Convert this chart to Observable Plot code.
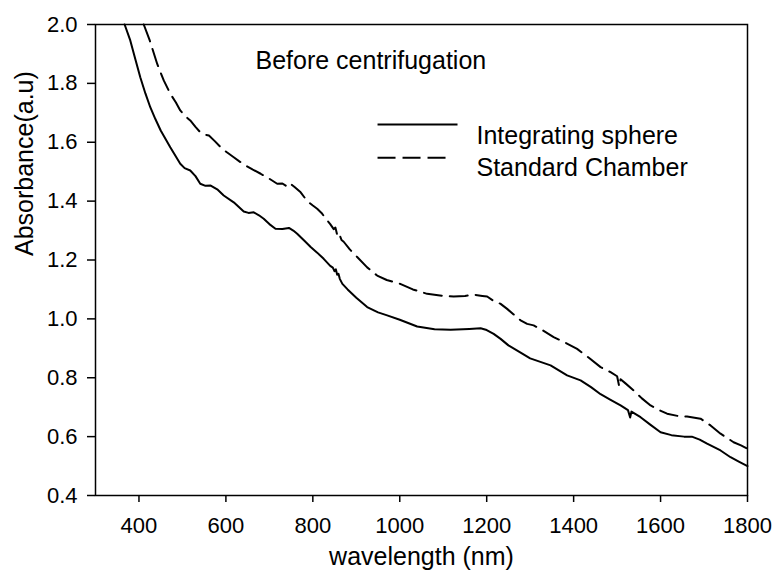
<!DOCTYPE html>
<html>
<head>
<meta charset="utf-8">
<script src="https://cdn.jsdelivr.net/npm/d3@7"></script>
<script src="https://cdn.jsdelivr.net/npm/@observablehq/plot@0.6"></script>
<style>
  html, body { margin: 0; padding: 0; background: white; }
</style>
</head>
<body>
<div id="chart"></div>
<script>
// Series names
const seriesNames = ["Integrating sphere", "Standard Chamber"];

// Integrating sphere (solid)
const wlSphere = [367, 380, 392, 403, 415, 426, 438, 450, 472, 495, 505, 518, 530, 541, 553, 565, 580, 595, 618, 641, 652, 664, 676, 687, 700, 714, 730, 745, 755, 764, 780, 795, 810, 825, 840, 846, 850, 853, 856, 859, 862, 868, 880, 900, 925, 950, 971, 1000, 1040, 1080, 1117, 1160, 1186, 1200, 1216, 1232, 1250, 1278, 1300, 1347, 1385, 1416, 1440, 1462, 1485, 1508, 1525, 1530, 1533, 1554, 1577, 1600, 1625, 1654, 1672, 1690, 1707, 1738, 1761, 1780, 1800];
const absSphere = [2.00, 1.946, 1.88, 1.821, 1.765, 1.719, 1.678, 1.64, 1.583, 1.527, 1.512, 1.504, 1.485, 1.459, 1.452, 1.453, 1.440, 1.419, 1.396, 1.365, 1.360, 1.362, 1.352, 1.34, 1.322, 1.306, 1.305, 1.309, 1.300, 1.289, 1.266, 1.244, 1.225, 1.204, 1.180, 1.174, 1.162, 1.168, 1.150, 1.153, 1.136, 1.119, 1.100, 1.072, 1.040, 1.022, 1.012, 0.997, 0.974, 0.965, 0.963, 0.966, 0.968, 0.962, 0.949, 0.932, 0.910, 0.885, 0.866, 0.842, 0.808, 0.791, 0.768, 0.744, 0.725, 0.706, 0.690, 0.665, 0.685, 0.666, 0.640, 0.615, 0.605, 0.600, 0.600, 0.590, 0.576, 0.553, 0.530, 0.515, 0.500];

// Standard Chamber (dashed)
const wlChamber = [411, 425, 442, 457, 472, 485, 495, 507, 518, 530, 541, 551, 561, 575, 588, 603, 618, 631, 645, 662, 680, 700, 718, 730, 738, 745, 752, 758, 772, 787, 800, 810, 820, 830, 840, 848, 852, 856, 860, 866, 871, 885, 902, 925, 948, 970, 1001, 1030, 1063, 1100, 1124, 1150, 1170, 1190, 1201, 1215, 1232, 1247, 1262, 1278, 1293, 1308, 1330, 1354, 1380, 1408, 1435, 1462, 1485, 1500, 1505, 1508, 1520, 1538, 1557, 1577, 1597, 1615, 1640, 1661, 1692, 1715, 1738, 1768, 1785, 1800];
const absChamber = [2.00, 1.945, 1.866, 1.81, 1.765, 1.735, 1.708, 1.688, 1.674, 1.652, 1.634, 1.626, 1.623, 1.603, 1.583, 1.565, 1.549, 1.535, 1.521, 1.507, 1.493, 1.476, 1.459, 1.460, 1.452, 1.462, 1.455, 1.448, 1.430, 1.400, 1.385, 1.374, 1.360, 1.340, 1.322, 1.305, 1.310, 1.285, 1.292, 1.268, 1.262, 1.236, 1.21, 1.175, 1.147, 1.132, 1.119, 1.100, 1.085, 1.078, 1.076, 1.078, 1.082, 1.078, 1.076, 1.062, 1.051, 1.034, 1.015, 0.995, 0.983, 0.978, 0.960, 0.938, 0.920, 0.898, 0.868, 0.836, 0.819, 0.805, 0.770, 0.795, 0.780, 0.757, 0.730, 0.706, 0.690, 0.678, 0.670, 0.668, 0.661, 0.638, 0.610, 0.581, 0.570, 0.559];

// Ticks
const xTicks = [400, 600, 800, 1000, 1200, 1400, 1600, 1800];
const yTicks = [0.4, 0.6, 0.8, 1.0, 1.2, 1.4, 1.6, 1.8, 2.0];

// Text
const xTitle = "wavelength (nm)";
const yTitle = "Absorbance(a.u)";
const annotation = "Before centrifugation";

const sphere = wlSphere.map((w, i) => ({wl: w, a: absSphere[i]}));
const chamber = wlChamber.map((w, i) => ({wl: w, a: absChamber[i]}));

const chart = Plot.plot({
  width: 774,
  height: 584,
  marginLeft: 95,
  marginRight: 27,
  marginTop: 24,
  marginBottom: 89,
  x: {domain: [300, 1800]},
  y: {domain: [0.4, 2.0]},
  style: {fontFamily: "'Liberation Sans', Arial, sans-serif", fontSize: "22px", color: "black", background: "white"},
  marks: [
    Plot.axisX({ticks: xTicks, tickSize: 7, tickPadding: 15, fontSize: 22, strokeWidth: 1.5, tickFormat: d => String(d), label: null}),
    Plot.axisY({ticks: yTicks, tickSize: 8, tickPadding: 10, fontSize: 22, strokeWidth: 1.5, tickFormat: d => d.toFixed(1), label: null}),
    Plot.frame({stroke: "black", strokeWidth: 1.5}),
    Plot.line(sphere, {x: "wl", y: "a", stroke: "black", strokeWidth: 2}),
    Plot.line(chamber, {x: "wl", y: "a", stroke: "black", strokeWidth: 2, strokeDasharray: "18,8"}),
    Plot.text([xTitle], {text: d => d, frameAnchor: "bottom", dy: 69, fontSize: 25}),
    Plot.text([yTitle], {text: d => d, frameAnchor: "left", dx: -71, dy: -4, rotate: -90, fontSize: 25}),
    Plot.text([annotation], {text: d => d, frameAnchor: "top-left", dx: 160, dy: 27, textAnchor: "start", fontSize: 25}),
    // legend
    Plot.ruleY([1.660], {x1: 950, x2: 1134, stroke: "black", strokeWidth: 2}),
    Plot.ruleY([1.547], {x1: 950, x2: 1116, stroke: "black", strokeWidth: 2, strokeDasharray: "18,7"}),
    Plot.text([seriesNames[0]], {text: d => d, frameAnchor: "top-left", dx: 381, dy: 102, textAnchor: "start", fontSize: 25}),
    Plot.text([seriesNames[1]], {text: d => d, frameAnchor: "top-left", dx: 381, dy: 134, textAnchor: "start", fontSize: 25})
  ]
});

document.getElementById("chart").appendChild(chart);
</script>
</body>
</html>
